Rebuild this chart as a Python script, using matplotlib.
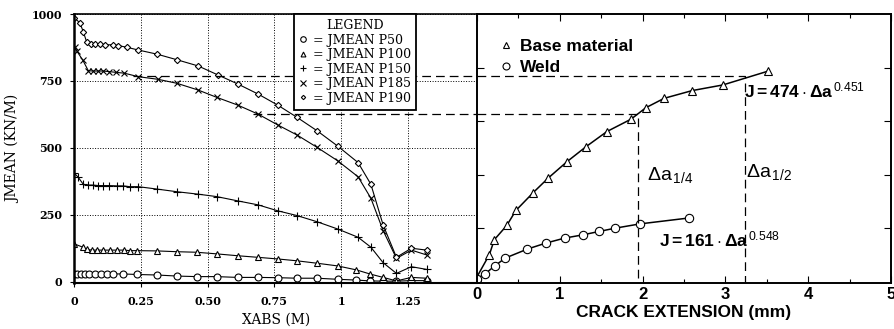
'''Rebuild the JMEAN / crack extension chart.'''

import numpy as np
import matplotlib
matplotlib.use('Agg')
import matplotlib.pyplot as plt
from matplotlib.lines import Line2D

# Left panel: JMEAN along XABS for the five load levels
p50_x = [0.0, 0.008, 0.023, 0.039, 0.055, 0.077, 0.098, 0.121, 0.145, 0.181, 0.233, 0.31, 0.385, 0.458,
         0.533, 0.612, 0.689, 0.762, 0.835, 0.91, 0.987, 1.058, 1.108, 1.158, 1.208, 1.264, 1.321]
p50_y = [30, 30, 30, 30, 30, 30, 30, 29, 29, 29, 27, 25, 21, 19, 19, 16, 16, 15, 13, 13, 9, 6, 3, 2, 2, 4, 4]

p100_x = [0.0, 0.031, 0.046, 0.064, 0.085, 0.108, 0.133, 0.158, 0.186, 0.208, 0.233, 0.31, 0.385, 0.458,
          0.533, 0.612, 0.689, 0.762, 0.835, 0.91, 0.987, 1.058, 1.108, 1.158, 1.208, 1.264, 1.321]
p100_y = [141, 129, 121, 118, 118, 118, 118, 118, 118, 116, 116, 115, 112, 110, 104, 97, 91, 85, 78, 69,
          59, 44, 29, 16, 3, 16, 13]

p150_x = [0.0, 0.014, 0.033, 0.052, 0.07, 0.089, 0.108, 0.13, 0.158, 0.183, 0.208, 0.239, 0.31, 0.385,
          0.464, 0.533, 0.612, 0.689, 0.762, 0.835, 0.91, 0.987, 1.064, 1.112, 1.158, 1.208, 1.264, 1.321]
p150_y = [405, 390, 364, 361, 361, 359, 359, 359, 358, 358, 355, 355, 346, 336, 327, 318, 302, 287, 265,
          247, 224, 197, 166, 129, 71, 31, 56, 46]

p185_x = [0.002, 0.01, 0.031, 0.052, 0.07, 0.089, 0.108, 0.129, 0.156, 0.187, 0.239, 0.314, 0.385, 0.464,
          0.533, 0.612, 0.689, 0.762, 0.835, 0.91, 0.987, 1.064, 1.112, 1.158, 1.208, 1.264, 1.321]
p185_y = [876, 860, 828, 788, 787, 787, 787, 785, 782, 779, 766, 756, 741, 716, 689, 660, 626, 586, 548,
          502, 452, 392, 312, 191, 87, 118, 100]

p190_x = [0.0, 0.02, 0.033, 0.046, 0.061, 0.077, 0.096, 0.114, 0.143, 0.164, 0.196, 0.237, 0.31, 0.385,
          0.464, 0.539, 0.612, 0.689, 0.762, 0.835, 0.91, 0.987, 1.064, 1.112, 1.158, 1.208, 1.264, 1.321]
p190_y = [984, 968, 934, 895, 888, 887, 887, 885, 885, 882, 876, 866, 850, 829, 806, 772, 739, 701, 660,
          614, 564, 507, 445, 364, 212, 91, 125, 118]

legend_labels = ['= JMEAN P50', '= JMEAN P100', '= JMEAN P150', '= JMEAN P185', '= JMEAN P190']
left_xticks = [0, 0.25, 0.5, 0.75, 1, 1.25]
left_xticklabels = ['0', '0.25', '0.50', '0.75', '1', '1.25']
left_yticks = [0, 250, 500, 750, 1000]

# Right panel: J-R curves
base_da = [0.0, 0.15, 0.21, 0.36, 0.47, 0.68, 0.86, 1.09, 1.32, 1.57, 1.86, 2.04, 2.26, 2.60, 2.97, 3.52]
base_j = [18, 101, 157, 210, 266, 333, 387, 449, 505, 561, 607, 650, 685, 714, 735, 787]
weld_da = [0.0, 0.10, 0.22, 0.34, 0.61, 0.83, 1.06, 1.28, 1.48, 1.67, 1.97, 2.56]
weld_j = [11, 30, 60, 88, 122, 144, 163, 175, 188, 200, 216, 238]

# J levels read across to the crack extension
j_half = 768
j_quarter = 628
da_half = 3.24
da_quarter = 1.94
xabs_half = 0.22
xabs_quarter = 0.67

SERIF = 'DejaVu Serif'
SANS = 'Liberation Sans'

plt.rcParams['mathtext.fontset'] = 'custom'
plt.rcParams['mathtext.rm'] = SANS
plt.rcParams['mathtext.bf'] = SANS + ':bold'
plt.rcParams['mathtext.it'] = SANS + ':italic'

fig = plt.figure(figsize=(8.95, 3.29), dpi=100)
axl = fig.add_axes([0.0832, 0.1389, 0.4497, 0.8185])
axr = fig.add_axes([0.5329, 0.1389, 0.4626, 0.8185])

# ---- left panel
styles = [('o', 5), ('^', 4.5), ('+', 6), ('x', 5), ('D', 3.2)]
series = [(p50_x, p50_y), (p100_x, p100_y), (p150_x, p150_y), (p185_x, p185_y), (p190_x, p190_y)]
handles = []
for (xs, ys), (mk, ms) in zip(series, styles):
    axl.plot(xs, ys, color='black', linewidth=0.8, marker=mk, markersize=ms,
             markerfacecolor='white', markeredgecolor='black', markeredgewidth=0.8)
    handles.append(Line2D([], [], linestyle='none', marker=mk, markersize=ms - 1,
                          markerfacecolor='white', markeredgecolor='black', markeredgewidth=0.8))

xmax_left = 1.51
axl.plot([xabs_half, xmax_left], [j_half, j_half], color='black', linewidth=0.9, dashes=(7, 4))
axl.plot([xabs_quarter, xmax_left], [j_quarter, j_quarter], color='black', linewidth=0.9, dashes=(7, 4))

axl.set_xlim(0, xmax_left)
axl.set_ylim(-6, 1000)
axl.set_xticks(left_xticks)
axl.set_xticklabels(left_xticklabels, family=SERIF, fontsize=8, fontweight='bold')
axl.set_yticks(left_yticks)
axl.set_yticklabels([str(v) for v in left_yticks], family=SERIF, fontsize=8, fontweight='bold')
axl.tick_params(direction='out', length=3, width=0.8, pad=6)
axl.grid(True, linestyle=':', color='black', linewidth=0.7)
axl.set_xlabel('XABS (M)', family=SERIF, fontsize=10, labelpad=4)
axl.set_ylabel('JMEAN (KN/M)', family=SERIF, fontsize=10, labelpad=8)
axl.spines['left'].set_linewidth(1.8)
axl.spines['bottom'].set_linewidth(1.5)
axl.spines['top'].set_linewidth(1.2)
axl.spines['right'].set_visible(False)

leg = axl.legend(handles, legend_labels, title='LEGEND', loc='upper left',
                 bbox_to_anchor=(0.545, 1.0), borderaxespad=0, frameon=True, fancybox=False,
                 handlelength=0.7, handletextpad=0.4, labelspacing=0.12, borderpad=0.4,
                 prop={'family': SERIF, 'size': 9})
leg.get_title().set_family(SERIF)
leg.get_title().set_fontsize(9)
leg.get_frame().set_edgecolor('black')
leg.get_frame().set_linewidth(1.3)
leg.get_frame().set_alpha(1)
leg.set_zorder(5)

# ---- right panel
for da, jj, mk in [(base_da, base_j, '^'), (weld_da, weld_j, 'o')]:
    axr.plot(da, jj, color='black', linewidth=1.1, marker=mk, markersize=6,
             markerfacecolor='white', markeredgecolor='black', markeredgewidth=0.8)

axr.plot([0, da_half, da_half], [j_half, j_half, 0], color='black', linewidth=0.9, dashes=(7, 4))
axr.plot([0, da_quarter, da_quarter], [j_quarter, j_quarter, 0], color='black', linewidth=0.9,
         dashes=(7, 4))

rh = [Line2D([], [], linestyle='none', marker='^', markersize=5, markerfacecolor='white',
             markeredgecolor='black', markeredgewidth=0.8),
      Line2D([], [], linestyle='none', marker='o', markersize=5, markerfacecolor='white',
             markeredgecolor='black', markeredgewidth=0.8)]
axr.legend(rh, ['Base material', 'Weld'], loc='upper left', bbox_to_anchor=(0.02, 0.965),
           frameon=False, handlelength=0.6, handletextpad=0.5, labelspacing=0.3,
           prop={'family': SANS, 'size': 12.5, 'weight': 'bold'})

axr.text(3.22, 712, r'$\mathbf{J = 474 \cdot \Delta a}^{\,0.451}$', fontsize=12.5, va='center')
axr.text(2.2, 155, r'$\mathbf{J = 161 \cdot \Delta a}^{\,0.548}$', fontsize=12.5, va='center')
axr.text(2.05, 400, r'$\Delta\mathrm{a}_{\,1/4}$', fontsize=14, va='center')
axr.text(3.25, 410, r'$\Delta\mathrm{a}_{\,1/2}$', fontsize=14, va='center')

axr.set_xlim(0, 5)
axr.set_ylim(-6, 1000)
axr.set_xticks([0, 1, 2, 3, 4, 5])
axr.set_xticklabels(['0', '1', '2', '3', '4', '5'], family=SANS, fontsize=12, fontweight='bold')
axr.set_xticks(np.arange(0.5, 5, 1.0), minor=True)
axr.set_yticks([200, 400, 600, 800])
axr.set_yticklabels([])
axr.tick_params(which='both', direction='in', top=True, right=True, left=True, bottom=True)
axr.tick_params(which='major', length=5, width=0.8, pad=3)
axr.tick_params(which='minor', length=3, width=0.8)
axr.set_xlabel('CRACK EXTENSION (mm)', family=SANS, fontsize=12.5, fontweight='bold', labelpad=2)
for s in axr.spines.values():
    s.set_linewidth(1.4)

fig.savefig('out.png', dpi=100)
